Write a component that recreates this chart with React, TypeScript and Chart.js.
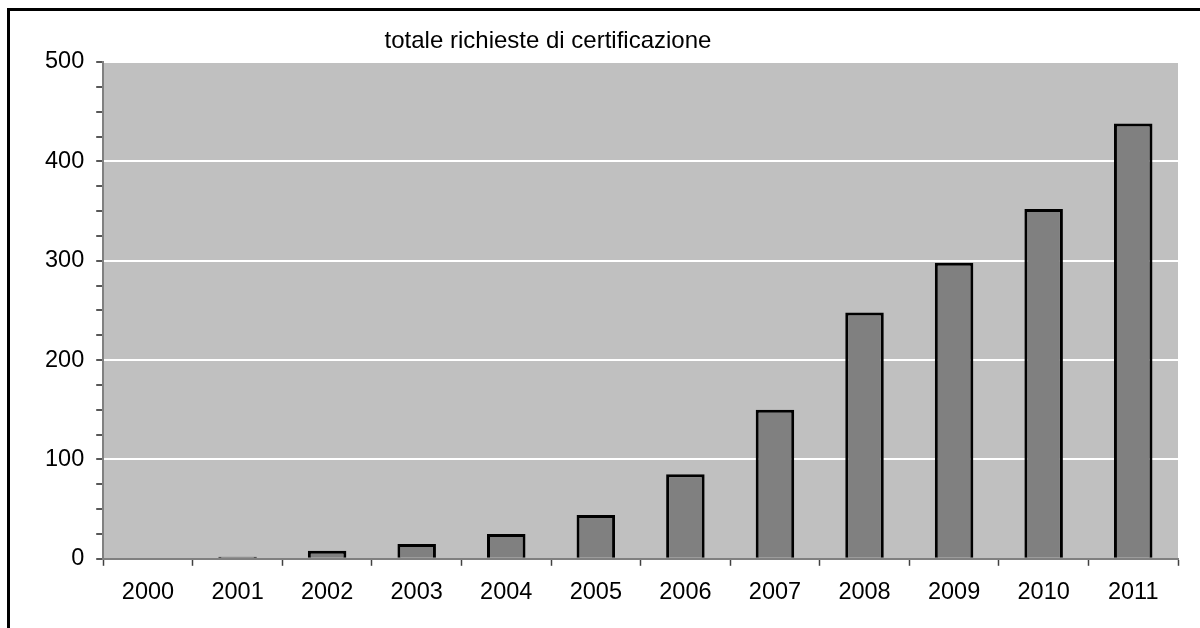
import React, { useEffect, useRef } from "react";
import { Chart, registerables } from "chart.js";

Chart.register(...registerables);

const TITLE = "totale richieste di certificazione";
const YEARS = ["2000", "2001", "2002", "2003", "2004", "2005", "2006", "2007", "2008", "2009", "2010", "2011"];
const REQUESTS = [0, 2, 8, 15, 25, 44, 85, 150, 248, 298, 352, 438];
const Y_MAX = 500;
const Y_STEP = 25;
const Y_LABEL_STEP = 100;

const FONT = "'Liberation Sans', Arial, sans-serif";

export default function App() {
  const ref = useRef<HTMLCanvasElement>(null);

  useEffect(() => {
    const canvas = ref.current;
    if (!canvas) return;
    const bgPlugin = {
      id: "plotBg",
      beforeDraw(chart: any) {
        const { ctx, chartArea } = chart;
        ctx.save();
        ctx.fillStyle = "#c0c0c0";
        ctx.fillRect(chartArea.left, chartArea.top, chartArea.right - chartArea.left, chartArea.bottom - chartArea.top);
        ctx.restore();
      },
    };
    const titlePlugin = {
      id: "offsetTitle",
      afterDraw(chart: any) {
        const { ctx } = chart;
        ctx.save();
        ctx.font = `24px ${FONT}`;
        ctx.fillStyle = "#000";
        ctx.textAlign = "center";
        ctx.textBaseline = "alphabetic";
        ctx.fillText(TITLE, 548, 48);
        ctx.restore();
      },
    };
    const chart = new Chart(canvas, {
      type: "bar",
      data: {
        labels: YEARS,
        datasets: [
          {
            data: REQUESTS,
            backgroundColor: "#808080",
            borderColor: "#000000",
            borderWidth: 3,
            barPercentage: 0.43,
            categoryPercentage: 1,
          },
        ],
      },
      options: {
        responsive: false,
        animation: false,
        devicePixelRatio: 1,
        layout: { padding: { left: 33, right: 22, top: 62, bottom: 8 } },
        plugins: {
          legend: { display: false },
          title: { display: false },
          tooltip: { enabled: false },
        },
        scales: {
          x: {
            grid: {
              display: true,
              drawOnChartArea: false,
              drawTicks: true,
              tickLength: 7,
              tickColor: "#404040",
              tickWidth: 1.5,
            },
            border: { display: true, color: "#808080", width: 2 },
            ticks: {
              color: "#000",
              padding: 13,
              font: { family: FONT, size: 23.5 },
              maxRotation: 0,
              autoSkip: false,
            },
          },
          y: {
            min: 0,
            max: Y_MAX,
            grid: {
              drawOnChartArea: true,
              color: (c: any) => {
                const v = c.tick ? c.tick.value : 0;
                if (v === 0) return "rgba(0,0,0,0)";
                return v % Y_LABEL_STEP === 0 ? "#ffffff" : "rgba(0,0,0,0)";
              },
              lineWidth: 2,
              drawTicks: true,
              tickLength: 7,
              tickColor: "#202020",
              tickWidth: 1.5,
            },
            border: { display: true, color: "#808080", width: 2 },
            ticks: {
              stepSize: Y_STEP,
              autoSkip: false,
              padding: 12,
              color: "#000",
              font: { family: FONT, size: 23.5 },
              callback: (v: any) => (Number(v) % Y_LABEL_STEP === 0 ? String(v) : ""),
            },
          },
        },
      },
      plugins: [bgPlugin, titlePlugin],
    });
    return () => chart.destroy();
  }, []);

  return (
    <div style={{ position: "fixed", left: 0, top: 0, width: 1200, height: 628, overflow: "hidden", background: "#fff" }}>
      <div
        style={{
          position: "absolute",
          left: 7,
          top: 8,
          width: 1300,
          height: 700,
          border: "3px solid #000",
          boxSizing: "border-box",
        }}
      />
      <canvas ref={ref} width={1200} height={628} style={{ position: "absolute", left: 0, top: 0, display: "block" }} />
    </div>
  );
}
